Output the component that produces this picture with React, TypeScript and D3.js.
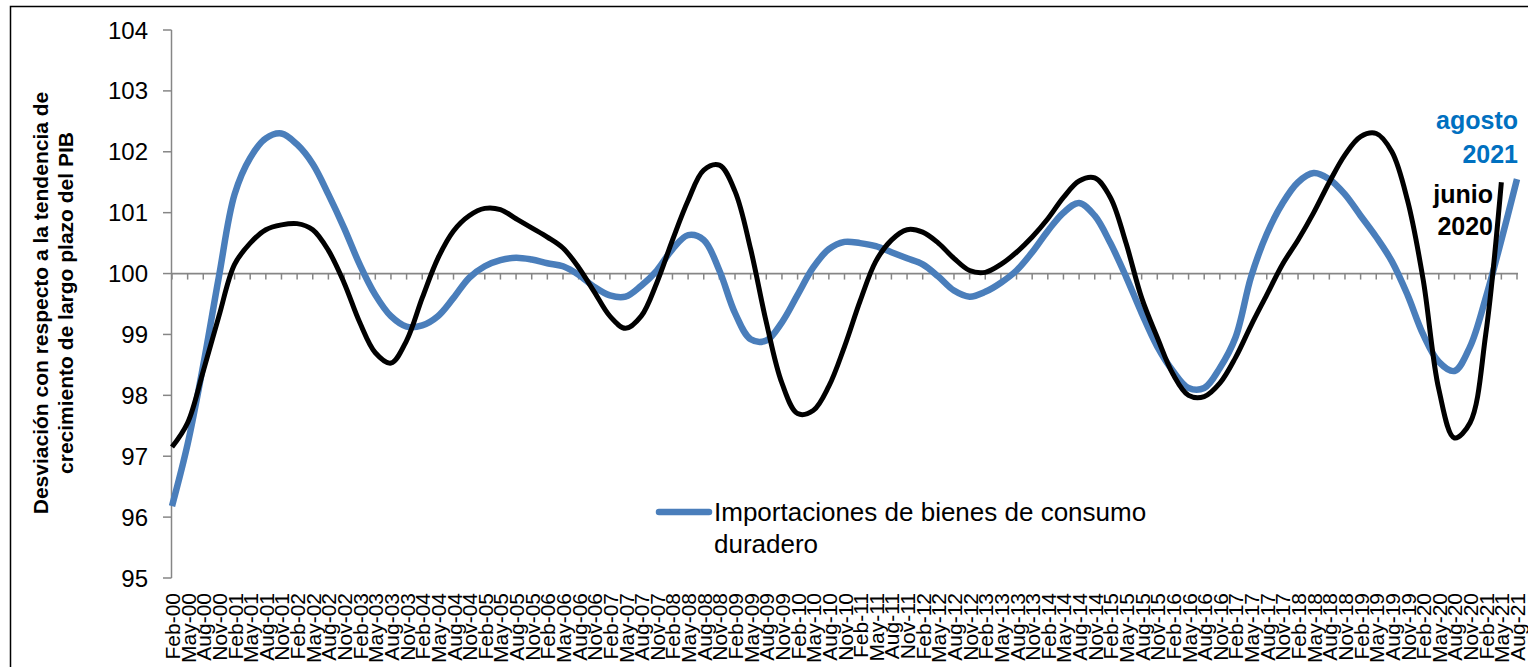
import React from "react";
import * as d3 from "d3";

const quarterMonths = ["Feb", "May", "Aug", "Nov"];
const yearLabels = ["00","01","02","03","04","05","06","07","08","09","10","11","12","13","14","15","16","17","18","19","20","21"];
const categories = yearLabels.flatMap((y) => quarterMonths.map((m) => `${m}-${y}`)).slice(0, 87);

const yTicks = [95, 96, 97, 98, 99, 100, 101, 102, 103, 104];

// Importaciones de bienes de consumo duradero (Feb-00 .. Aug-21)
const blueValues = [
  96.18, 97.2, 98.5, 99.95, 101.3, 101.9, 102.22, 102.3, 102.12, 101.8,
  101.3, 100.75, 100.15, 99.65, 99.3, 99.13, 99.15, 99.3, 99.6, 99.93,
  100.12, 100.22, 100.26, 100.23, 100.17, 100.12, 99.98, 99.78, 99.64, 99.62,
  99.8, 100.05, 100.4, 100.63, 100.55, 100.05, 99.35, 98.92, 98.9, 99.2,
  99.65, 100.1, 100.4, 100.52, 100.5, 100.45, 100.35, 100.25, 100.15, 99.95,
  99.72, 99.62, 99.7, 99.85, 100.05, 100.35, 100.7, 101.0, 101.16, 100.95,
  100.5, 99.95, 99.35, 98.8, 98.4, 98.12, 98.12, 98.45, 98.95, 99.95,
  100.65, 101.15, 101.5, 101.65, 101.55, 101.3, 100.95, 100.6, 100.2, 99.65,
  99.0, 98.55, 98.4, 98.8, 99.6, 100.55, 101.55,
];

// Serie de referencia (negra), Feb-00 .. May-21
const blackValues = [
  97.15, 97.55, 98.4, 99.3, 100.15, 100.5, 100.72, 100.8, 100.82, 100.72,
  100.38, 99.85, 99.2, 98.7, 98.53, 98.9, 99.6, 100.25, 100.7, 100.95,
  101.07, 101.05, 100.9, 100.75, 100.6, 100.42, 100.1, 99.7, 99.3, 99.1,
  99.3, 99.85, 100.55, 101.2, 101.7, 101.78, 101.35, 100.4, 99.2, 98.2,
  97.7, 97.75, 98.15, 98.8, 99.55, 100.2, 100.55, 100.72, 100.68, 100.5,
  100.25, 100.05, 100.02, 100.15, 100.35, 100.6, 100.9, 101.25, 101.52, 101.57,
  101.25, 100.5, 99.6, 98.95, 98.35, 98.0, 97.98, 98.2, 98.62, 99.15,
  99.65, 100.15, 100.55, 101.0, 101.5, 101.95, 102.25, 102.3, 102.0, 101.2,
  99.9, 98.1, 97.3, 97.55, 99.0, 101.5,
];

const yTitleLines = ["Desviación con respecto a la tendencia de", "crecimiento de largo plazo del PIB"];
const legendLines = ["Importaciones de bienes de consumo", "duradero"];
const blueNote = ["agosto", "2021"];
const blackNote = ["junio", "2020"];

const W = 1528;
const H = 667;
const BLUE = "#4A7EBB";
const AXIS = "#868686";
const FONT = "'Liberation Sans', Arial, sans-serif";

export default function App() {
  const x = d3.scalePoint<string>().domain(categories).range([172, 1517]);
  const y = d3.scaleLinear().domain([95, 104]).range([578, 30]);

  const line = d3
    .line<number>()
    .x((_, i) => x(categories[i]) as number)
    .y((d) => y(d))
    .curve(d3.curveCatmullRom.alpha(0.5));

  const y100 = y(100);

  return (
    <svg
      width={W}
      height={H}
      style={{ position: "absolute", left: 0, top: 0, background: "#fff" }}
      fontFamily={FONT}
    >
      <rect x={0} y={0} width={W} height={H} fill="#fff" />
      <rect x={10.5} y={6.5} width={1700} height={800} fill="none" stroke="#000" strokeWidth={1.5} />

      {/* Y axis */}
      <line x1={171.5} x2={171.5} y1={y(104)} y2={y(95)} stroke={AXIS} strokeWidth={1.5} />
      {yTicks.map((t) => (
        <g key={t}>
          <line x1={163} x2={171.5} y1={y(t)} y2={y(t)} stroke={AXIS} strokeWidth={1.5} />
          <text x={148} y={y(t) + 8.5} textAnchor="end" fontSize={24} fill="#000">
            {t}
          </text>
        </g>
      ))}

      {/* Category axis crossing at 100 */}
      <line x1={171.5} x2={1518} y1={y100} y2={y100} stroke={AXIS} strokeWidth={1.8} />
      {categories.map((c) => (
        <line
          key={"t" + c}
          x1={x(c)}
          x2={x(c)}
          y1={y100}
          y2={y100 + 6}
          stroke={AXIS}
          strokeWidth={1.5}
        />
      ))}
      {categories.map((c) => {
        const cx = (x(c) as number) + 8;
        return (
          <text
            key={"l" + c}
            transform={`translate(${cx},593) rotate(-90)`}
            textAnchor="end"
            fontSize={21}
            fill="#000"
          >
            {c}
          </text>
        );
      })}

      {/* Y title */}
      {yTitleLines.map((t, i) => (
        <text
          key={t}
          transform={`translate(${48 + i * 25},303) rotate(-90)`}
          textAnchor="middle"
          fontSize={21}
          fontWeight="bold"
          fill="#000"
        >
          {t}
        </text>
      ))}

      {/* Series */}
      <path d={line(blueValues) ?? ""} fill="none" stroke={BLUE} strokeWidth={6.5} strokeLinejoin="round" />
      <path d={line(blackValues) ?? ""} fill="none" stroke="#000" strokeWidth={5} strokeLinejoin="round" />

      {/* Legend */}
      <line x1={659} x2={709} y1={512} y2={512} stroke={BLUE} strokeWidth={6.5} strokeLinecap="round" />
      {legendLines.map((t, i) => (
        <text key={t} x={714} y={521 + i * 32} fontSize={26} fill="#000">
          {t}
        </text>
      ))}

      {/* Annotations */}
      {blueNote.map((t, i) => (
        <text key={t} x={1518} y={129 + i * 34} textAnchor="end" fontSize={25} fontWeight="bold" fill="#0070C0">
          {t}
        </text>
      ))}
      {blackNote.map((t, i) => (
        <text key={t} x={1493} y={203 + i * 32} textAnchor="end" fontSize={25} fontWeight="bold" fill="#000">
          {t}
        </text>
      ))}
    </svg>
  );
}
